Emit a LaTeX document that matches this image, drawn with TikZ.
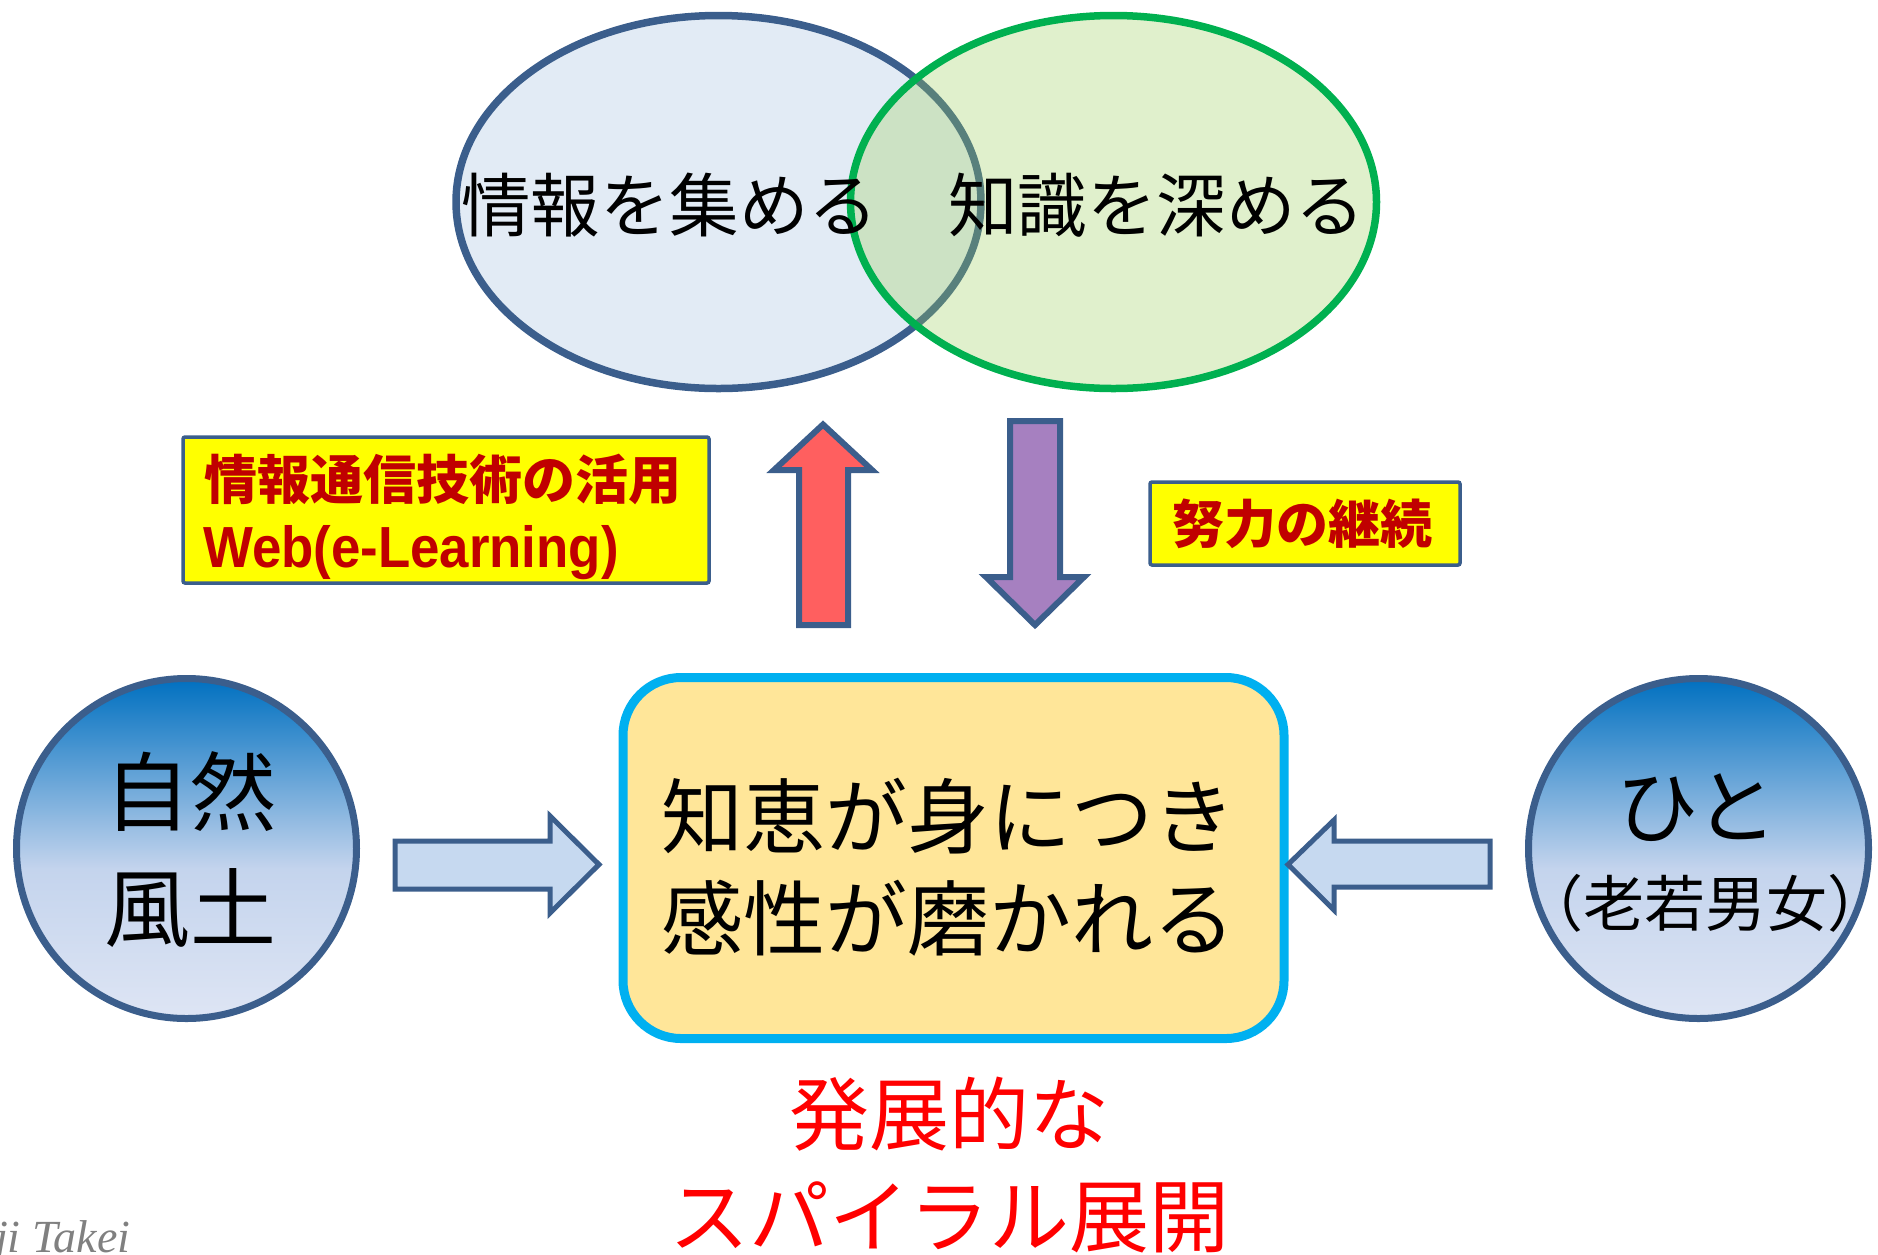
\documentclass[tikz,border=0pt]{standalone}
\usepackage{fontspec}
\usetikzlibrary{shapes.geometric}
\setmainfont{Liberation Sans}
\newfontfamily\jp{Noto Sans CJK JP}
\newfontfamily\lat{Liberation Sans}[FakeStretch=0.91]
\newfontfamily\creditfont{Liberation Serif}
\definecolor{bord}{RGB}{59,94,140}
\definecolor{ellblue}{RGB}{226,235,245}
\definecolor{ellgreenfill}{RGB}{155,206,90}
\definecolor{ellgreen}{RGB}{0,176,80}
\definecolor{labelbg}{RGB}{255,255,0}
\definecolor{labeltext}{RGB}{192,0,0}
\definecolor{redfill}{RGB}{255,95,95}
\definecolor{purplefill}{RGB}{166,128,192}
\definecolor{lightarrow}{RGB}{198,217,240}
\definecolor{boxfill}{RGB}{255,230,153}
\definecolor{boxborder}{RGB}{0,176,240}
\definecolor{ctop}{RGB}{0,112,192}
\definecolor{cmid}{RGB}{196,212,237}
\definecolor{cbot}{RGB}{222,229,244}
\definecolor{creditgray}{RGB}{128,128,128}
\pgfdeclareverticalshading{ballshade}{100bp}{color(0bp)=(cbot); color(25bp)=(cbot); color(47bp)=(cmid); color(75bp)=(ctop); color(100bp)=(ctop)}
\tikzset{
  blockarrow/.style={draw=bord, line width=6pt, line join=miter},
  ball/.style={circle, draw=bord, line width=7pt, shading=ballshade, minimum size=340pt, inner sep=0pt},
  labelbox/.style={draw=bord, line width=3.5pt, fill=labelbg, rounded corners=2pt, inner sep=0pt},
  jpfont/.style={font=\jp\fontsize{#1pt}{#1pt}\selectfont},
  jpbfont/.style={font=\jp\bfseries\fontsize{#1pt}{#1pt}\selectfont, text=labeltext},
}
\begin{document}
\begin{tikzpicture}[x=1pt, y=-1pt]
\useasboundingbox (0,0) rectangle (1878,1254);

% Venn ellipses
\node[ellipse, draw=bord, line width=7.5pt, fill=ellblue, minimum width=525pt, minimum height=373pt, inner sep=0pt] (gather) at (718.5,202) {};
\node[ellipse, draw=ellgreen, line width=7.5pt, fill=ellgreenfill, fill opacity=0.31, minimum width=526pt, minimum height=373pt, inner sep=0pt] (deepen) at (1113.5,202) {};
\node[jpfont=69.5, anchor=center] (gathertext) at (669.5,205) {情報を集める};
\node[jpfont=69.5, anchor=center] (deepentext) at (1156.5,205) {知識を深める};

% Label boxes
\node[labelbox, minimum width=526pt, minimum height=146pt] (ictbox) at (446,510) {};
\node[jpbfont=53, anchor=west] (ictline1) at (201,479) {情報通信技術の活用};
\node[font=\lat\bfseries\fontsize{58pt}{58pt}\selectfont, text=labeltext, anchor=base west, inner sep=0pt] (ictline2) at (203,567) {Web(e-Learning)};

\node[labelbox, minimum width=310pt, minimum height=83pt] (effortbox) at (1305,523.5) {};
\node[jpbfont=52, anchor=center] (efforttext) at (1302.5,523.5) {努力の継続};

% Up and down arrows
\draw[blockarrow, fill=redfill] (823,424.5) -- (872,470) -- (848,470) -- (848,625) -- (799,625) -- (799,470) -- (774,470) -- cycle;
\draw[blockarrow, fill=purplefill] (1010,421) -- (1060,421) -- (1060,577) -- (1084,577) -- (1035,625) -- (986,577) -- (1010,577) -- cycle;

% Centre box
\node[draw=boxborder, line width=9pt, fill=boxfill, rounded corners=58pt, minimum width=661pt, minimum height=361pt, inner sep=0pt] (wisdom) at (953.5,858) {};
\node[font=\jp\fontsize{82pt}{102pt}\selectfont, align=center, anchor=center] (wisdomtext) at (948,867) {知恵が身につき\\感性が磨かれる};

% Side circles
\node[ball] (nature) at (186.5,848.5) {};
\node[font=\jp\fontsize{86pt}{116pt}\selectfont, align=center, anchor=center] (naturetext) at (190,850) {自然\\風土};
\node[ball] (people) at (1698.5,848.5) {};
\node[jpfont=82, anchor=center] (peopletext) at (1697,808) {ひと};
\node[jpfont=61, anchor=center] (peoplesub) at (1705.5,903) {\kern-0.5em（老若男女）\kern-0.5em};

% Horizontal block arrows
\draw[blockarrow, line width=5pt, fill=lightarrow] (395,841) -- (550,841) -- (550,816) -- (599,864.5) -- (550,913) -- (550,889) -- (395,889) -- cycle;
\draw[blockarrow, line width=5pt, fill=lightarrow] (1490,841) -- (1334,841) -- (1334,820) -- (1288,864.5) -- (1334,910) -- (1334,887) -- (1490,887) -- cycle;

% Bottom caption
\node[font=\jp\fontsize{80pt}{102pt}\selectfont, text=red, align=center, anchor=center] (spiral) at (949,1165) {発展的な\\スパイラル展開};

% Credit (cut off at the left edge)
\node[font=\creditfont\itshape\fontsize{46pt}{46pt}\selectfont, text=creditgray, anchor=base west, inner sep=0pt] (credit) at (-5,1252) {ji Takei};
\end{tikzpicture}
\end{document}
